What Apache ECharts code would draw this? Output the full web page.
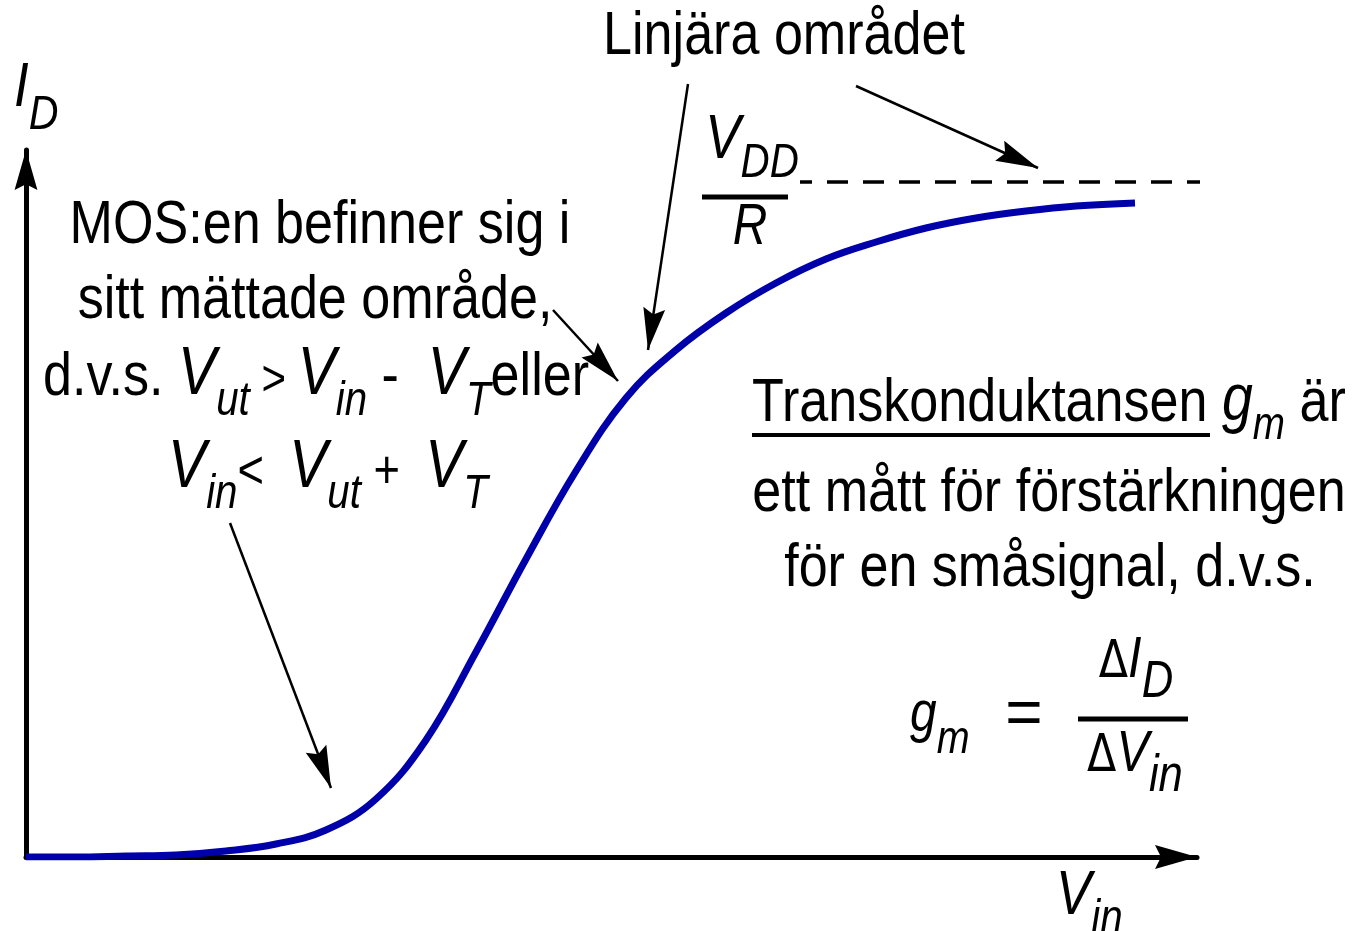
<!DOCTYPE html>
<html>
<head>
<meta charset="utf-8">
<script src="https://cdn.jsdelivr.net/npm/echarts@6/dist/echarts.min.js"></script>
<style>
  html, body { margin: 0; padding: 0; background: #fff; }
  #chart { width: 1353px; height: 931px; }
</style>
</head>
<body>
<div id="chart"></div>
<script>
// Transfer characteristic I_D(V_in) of the MOS stage, arbitrary units
const vIn = [0, 0.5, 1.0, 1.5, 2.0, 2.5, 3.0, 3.5, 4.0, 4.5, 5.0, 5.5,
             6.0, 6.5, 7.0, 7.5, 8.0, 8.5, 9.0, 9.5, 10.0, 10.5, 11.09];
const iD  = [0, 0, 0.01, 0.02, 0.06, 0.13, 0.27, 0.58, 1.17, 2.05, 2.98, 3.86,
             4.59, 5.07, 5.44, 5.74, 5.98, 6.15, 6.29, 6.39, 6.46, 6.51, 6.54];

// Upper limit V_DD/R and the span of its dashed guide line
const vddOverR = 6.75;
const guideSpan = [7.74, 11.82];

// Pointer arrows, [fromV, fromI, toV, toI]
const pointers = [
  [6.62, 7.73, 6.22, 5.07],
  [8.30, 7.71, 10.12, 6.89],
  [5.27, 5.47, 5.92, 4.76],
  [2.04, 3.34, 3.05, 0.69]
];

const axisMax = { v: 11.71, i: 7.07 };

const SANS = "'Liberation Sans','Arimo',Arial,sans-serif";
const GREEK = "'DejaVu Sans',sans-serif";
const NARROW = 0.84;

// Arrow heads: tip sits at the centre of the symbol box, head trails behind it
const AXIS_HEAD = 'path://M12,0 L12.01,0 L12,0.01 Z M12,42 L24,84 L12,78 L0,84 Z';
const POINTER_HEAD = 'path://M0,0 L0.01,0 L0,0.01 Z M84,84 L83.99,84 L84,83.99 Z M42,42 L53,84 L42,78 L31,84 Z';

// Rich-text style set. Tokens are top-aligned; a top padding puts every
// baseline B0 below the top of the line, subscripts `drop` pixels lower.
const B0 = 80;
function tok(font, size, c, drop) {
  const pad = Math.max(0, B0 + (drop || 0) - size / 2 - c * size);
  return { font: font, fill: '#000', verticalAlign: 'top', padding: [pad, 0, 0, 0] };
}
function richSet(o) {
  const v = o.v || o.t, s = o.s || 48, op = o.o || 50, d = o.d || 40;
  return {
    t: tok(o.t + 'px ' + SANS, o.t, 0.3465),
    v: tok('italic ' + v + 'px ' + SANS, v, 0.3465),
    s: tok('italic ' + s + 'px ' + SANS, s, 0.3465, o.drop || 17),
    o: tok(op + 'px ' + SANS, op, 0.3465),
    d: tok(d + 'px ' + GREEK, d, 0.346)
  };
}

function line(x, baseline, text, align, opts, sx) {
  opts = opts || { t: 62 };
  return {
    type: 'text', x: x, y: baseline - B0, z: 20, scaleX: sx || NARROW,
    style: {
      legacy: false, text: text, rich: richSet(opts), fill: '#000',
      font: opts.t + 'px ' + SANS, align: align, verticalAlign: 'top'
    }
  };
}
function rule(x1, x2, y, w) {
  return { type: 'line', z: 20, shape: { x1: x1, y1: y, x2: x2, y2: y },
           style: { stroke: '#000', lineWidth: w } };
}

const body = { t: 62, v: 68, s: 48, drop: 19, o: 50 };
const texts = [
  line(784, 58, '{t|Linjära området}', 'center', body),
  line(14, 110, '{v|I}{s|D}', 'left', { t: 62, v: 63, s: 49, drop: 22 }),
  line(320, 247, '{t|MOS:en befinner sig i}', 'center', body),
  line(315, 322, '{t|sitt mättade område,}', 'center', body),
  line(316, 399, '{t|d.v.s. }{v|V}{s|ut}{o| > }{v|V}{s|in}{t| -  }{v|V}{s|T}{t|eller}', 'center', body),
  line(328, 492, '{v|V}{s|in}{o|<  }{v|V}{s|ut}{o| +  }{v|V}{s|T}', 'center', { t: 62, v: 68, s: 48, drop: 19, o: 54 }),
  line(752, 162, '{v|V}{s|DD}', 'center', { t: 62, v: 63, s: 48, drop: 18 }),
  rule(702, 788, 197, 5),
  line(750, 248, '{v|R}', 'center', { t: 62, v: 57 }),
  line(752, 425, '{t|Transkonduktansen }{v|g}{s|m}{t| är}', 'left', { t: 62, v: 66, s: 46, drop: 17 }),
  rule(752, 1210, 435, 4),
  line(1049, 515, '{t|ett mått för förstärkningen}', 'center', body),
  line(1050, 590, '{t|för en småsignal, d.v.s.}', 'center', body),
  line(910, 735, '{v|g}{s|m}', 'left', { t: 62, v: 57, s: 47, drop: 21 }),
  line(1024, 739, '{t|=}', 'center', { t: 64 }, 1),
  line(1136, 681, '{d|Δ}{v|I}{s|D}', 'center', { t: 62, v: 58, s: 52, drop: 20, d: 51 }),
  rule(1078, 1188, 719, 5),
  line(1135, 775, '{d|Δ}{v|V}{s|in}', 'center', { t: 62, v: 58, s: 52, drop: 20, d: 51 }),
  line(1056, 918, '{v|V}{s|in}', 'left', { t: 62, v: 63, s: 48, drop: 18 })
];

const chart = echarts.init(document.getElementById('chart'), null, { renderer: 'canvas' });
chart.setOption({
  backgroundColor: '#fff',
  animation: false,
  grid: { left: 26, right: 156, top: 150, bottom: 74, containLabel: false },
  xAxis: {
    type: 'value', min: 0, max: axisMax.v,
    axisLine: { show: true, onZero: false, symbol: ['none', AXIS_HEAD], symbolSize: [24, 84],
                lineStyle: { color: '#000', width: 5 } },
    axisTick: { show: false }, axisLabel: { show: false }, splitLine: { show: false }
  },
  yAxis: {
    type: 'value', min: 0, max: axisMax.i,
    axisLine: { show: true, onZero: false, symbol: ['none', AXIS_HEAD], symbolSize: [23, 80],
                lineStyle: { color: '#000', width: 5 } },
    axisTick: { show: false }, axisLabel: { show: false }, splitLine: { show: false }
  },
  series: [
    {
      type: 'line', name: 'I_D',
      data: vIn.map((v, k) => [v, iD[k]]),
      smooth: 0.4, showSymbol: false, z: 5,
      lineStyle: { color: '#0000aa', width: 7, cap: 'butt' }
    },
    {
      type: 'line', name: 'V_DD/R',
      data: [[guideSpan[0], vddOverR], [guideSpan[1], vddOverR]],
      showSymbol: false, clip: false, z: 4,
      lineStyle: { color: '#000', width: 3.5, type: [21, 15], dashOffset: 9 }
    },
    {
      type: 'lines', coordinateSystem: 'cartesian2d', clip: false, z: 6,
      symbol: ['none', POINTER_HEAD], symbolSize: 84,
      lineStyle: { color: '#000', width: 2.5, opacity: 1, curveness: 0 },
      data: pointers.map(p => ({ coords: [[p[0], p[1]], [p[2], p[3]]] }))
    }
  ],
  graphic: texts
});
</script>
</body>
</html>
